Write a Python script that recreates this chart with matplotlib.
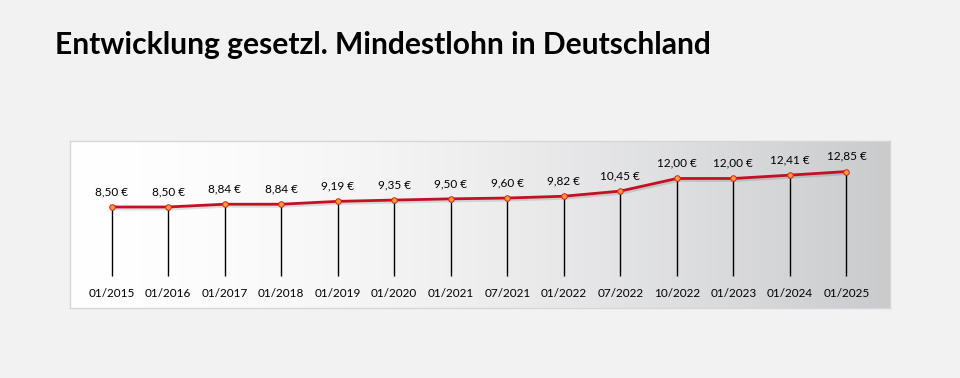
import numpy as np
import matplotlib.pyplot as plt
import matplotlib.patheffects as pe

dates = ['01/2015', '01/2016', '01/2017', '01/2018', '01/2019', '01/2020', '01/2021',
         '07/2021', '01/2022', '07/2022', '10/2022', '01/2023', '01/2024', '01/2025']
wage = [8.50, 8.50, 8.84, 8.84, 9.19, 9.35, 9.50, 9.60, 9.82, 10.45, 12.00, 12.00, 12.41, 12.85]

plt.rcParams['font.family'] = ['Lato', 'DejaVu Sans']

fig = plt.figure(figsize=(9.6, 3.78), dpi=100)
fig.patch.set_facecolor('#f2f2f2')

fig.text(55 / 960, 1 - 54 / 378, 'Entwicklung gesetzl. Mindestlohn in Deutschland',
         fontsize=21.6, fontweight='bold', va='baseline', ha='left', color='black')

ax = fig.add_axes([70 / 960, 1 - 308 / 378, 820 / 960, 167 / 378])
x = np.arange(len(wage))
ax.set_xlim(-0.735, 13.77)
ax.set_ylim(-3.9, 16.6)

# gradient background white -> gray
ramp = np.linspace(0, 1, 256) ** 1.6
light = np.array([1.0, 1.0, 1.0])
dark = np.array([0.79, 0.795, 0.805])
grad = light[None, :] * (1 - ramp[:, None]) + dark[None, :] * ramp[:, None]
ax.imshow(grad[None, :, :], extent=[-0.735, 13.77, -3.9, 16.6], aspect='auto', zorder=0)

for s in ax.spines.values():
    s.set_color('#d6d6d6')
    s.set_linewidth(1)
ax.set_xticks([])
ax.set_yticks([])

ax.vlines(x, 0, wage, color='black', lw=1, zorder=2)
ax.plot(x, wage, color='#c40f24', lw=2, zorder=3,
        path_effects=[pe.SimpleLineShadow(offset=(1, -1.5), alpha=0.12), pe.Normal()])
ax.plot(x, wage, 'o', ms=4, mfc='#f7a028', mec='#d2232a', mew=0.7, zorder=4)

for xi, v, d in zip(x, wage, dates):
    ax.annotate(f'{v:.2f} €'.replace('.', ','), (xi, v), xytext=(0, 11), textcoords='offset points',
                ha='center', va='center', fontsize=8.5, color='black')
    ax.text(xi, -2.1, d, ha='center', va='center', fontsize=8.5, color='black')

fig.savefig('out.png', dpi=100, facecolor=fig.get_facecolor())
